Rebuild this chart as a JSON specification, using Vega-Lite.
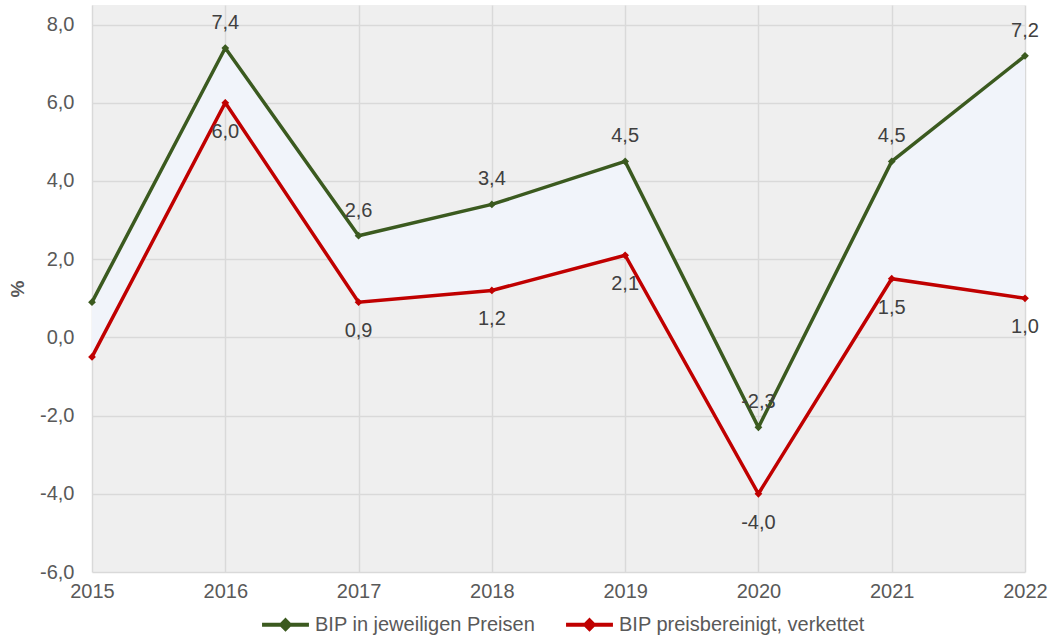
{
  "$schema": "https://vega.github.io/schema/vega-lite/v6.json",
  "width": 933,
  "height": 567,
  "autosize": {"type": "none"},
  "padding": {"left": 92, "top": 5, "right": 26, "bottom": 64},
  "background": "white",
  "config": {
    "locale": {"number": {"decimal": ",", "thousands": ".", "grouping": [3], "currency": ["", " €"], "minus": "-"}},
    "font": "Liberation Sans",
    "view": {"stroke": null, "fill": "#efefef"},
    "axis": {"gridColor": "#d9d9d9", "gridWidth": 1.5, "ticks": false, "domain": false, "labelFontSize": 20, "labelColor": "#595959", "titleColor": "#595959"}
  },
  "data": {
    "values": [
      {"Jahr": "2015", "jeweilig": 0.9, "verkettet": -0.5},
      {"Jahr": "2016", "jeweilig": 7.4, "verkettet": 6.0},
      {"Jahr": "2017", "jeweilig": 2.6, "verkettet": 0.9},
      {"Jahr": "2018", "jeweilig": 3.4, "verkettet": 1.2},
      {"Jahr": "2019", "jeweilig": 4.5, "verkettet": 2.1},
      {"Jahr": "2020", "jeweilig": -2.3, "verkettet": -4.0},
      {"Jahr": "2021", "jeweilig": 4.5, "verkettet": 1.5},
      {"Jahr": "2022", "jeweilig": 7.2, "verkettet": 1.0}
    ]
  },
  "encoding": {
    "x": {
      "field": "Jahr",
      "type": "ordinal",
      "scale": {"type": "point", "padding": 0},
      "axis": {"title": null, "labelAngle": 0, "labelPadding": 9, "grid": true}
    }
  },
  "layer": [
    {
      "mark": {"type": "area", "color": "#f1f4fa", "opacity": 1},
      "encoding": {
        "y": {
          "field": "jeweilig",
          "type": "quantitative",
          "scale": {"domain": [-6, 8.5], "nice": false, "zero": false},
          "axis": {"values": [-6, -4, -2, 0, 2, 4, 6, 8], "format": ".1f", "grid": true, "labelPadding": 18, "title": "%", "titleFontSize": 19, "titleFontWeight": "bold", "titlePadding": 12}
        },
        "y2": {"field": "verkettet"}
      }
    },
    {
      "transform": [{"fold": ["jeweilig", "verkettet"], "as": ["Reihe", "Wert"]}],
      "mark": {"type": "line", "strokeWidth": 3.5, "point": {"shape": "diamond", "size": 60, "filled": true}},
      "encoding": {
        "y": {"field": "Wert", "type": "quantitative"},
        "color": {
          "field": "Reihe",
          "type": "nominal",
          "scale": {"domain": ["jeweilig", "verkettet"], "range": ["#3b5a1f", "#c00000"]},
          "legend": {
            "orient": "none",
            "legendX": 168,
            "legendY": 594,
            "direction": "horizontal",
            "title": null,
            "labelFontSize": 20,
            "labelColor": "#595959",
            "labelLimit": 0,
            "labelExpr": "datum.value == 'jeweilig' ? 'BIP in jeweiligen Preisen' : 'BIP preisbereinigt, verkettet'",
            "symbolType": "M-1,0L1,0M0,-0.18L0.18,0L0,0.18L-0.18,0Z",
            "symbolSize": 2200,
            "symbolStrokeWidth": 4,
            "columnPadding": 22,
            "labelOffset": 4,
            "encode": {"symbols": {"update": {"fill": {"field": "value", "scale": "color"}, "fillOpacity": {"value": 1}}}}
          }
        }
      }
    },
    {
      "transform": [{"filter": "datum.Jahr != '2015'"}],
      "mark": {"type": "text", "dy": -25, "fontSize": 20, "color": "#404040"},
      "encoding": {
        "y": {"field": "jeweilig", "type": "quantitative"},
        "text": {"field": "jeweilig", "type": "quantitative", "format": ".1f"}
      }
    },
    {
      "transform": [{"filter": "datum.Jahr != '2015'"}],
      "mark": {"type": "text", "dy": 29, "fontSize": 20, "color": "#404040"},
      "encoding": {
        "y": {"field": "verkettet", "type": "quantitative"},
        "text": {"field": "verkettet", "type": "quantitative", "format": ".1f"}
      }
    }
  ]
}
